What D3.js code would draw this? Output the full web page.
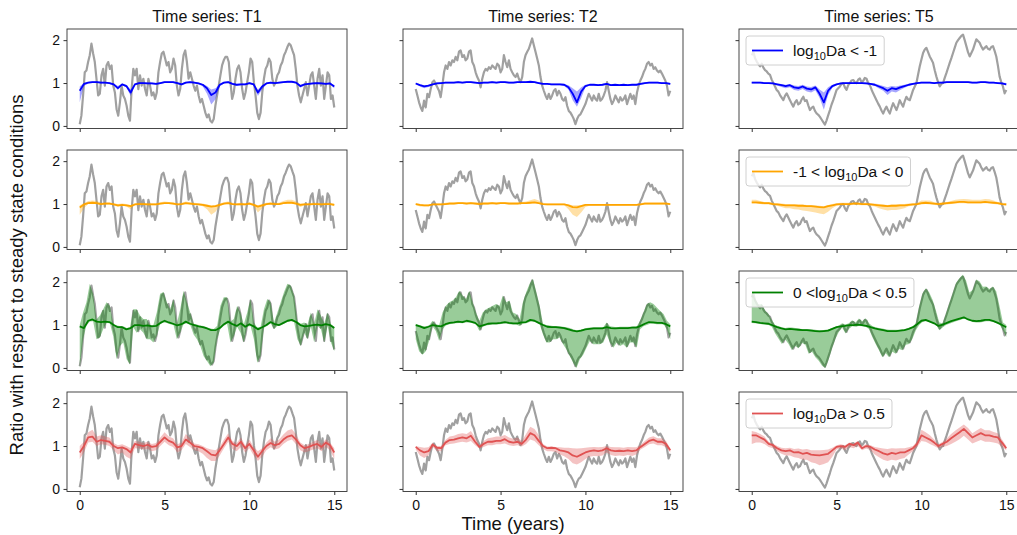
<!DOCTYPE html>
<html>
<head>
<meta charset="utf-8">
<title>Ratio with respect to steady state conditions</title>
<script src="https://cdn.jsdelivr.net/npm/d3@7"></script>
<style>
  body { margin: 0; background: #fff; }
  svg text { font-family: "Liberation Sans", Arial, sans-serif; fill: #111; }
</style>
</head>
<body>
<svg id="chart" width="1017" height="535"></svg>
<script>

// ---- data (values sampled evenly over 0-15 years) ----
var seriesNames = ["T1", "T2", "T5"];
var classLabels = [["", "< -1"], ["-1 < ", "< 0"], ["0 <", "< 0.5"], ["", "> 0.5"]];
var classColors = ["#0000ff", "#ffa500", "#008000", "#e05252"];
var xTicks = [0, 5, 10, 15];
var yTicks = [0, 1, 2];

// input time series (grey)
var grayT1 = [0.04,0.24,0.71,1.25,1.29,1.49,1.65,1.92,1.69,1.49,1.10,0.71,0.75,1.18,1.33,0.94,1.41,1.49,1.33,1.41,0.94,0.78,0.39,0.24,0.55,0.94,0.71,0.63,0.47,0.24,0.12,0.86,1.33,1.18,1.33,0.86,1.18,0.94,1.10,0.86,0.71,1.10,0.94,0.71,0.78,0.63,0.78,1.25,1.49,1.69,1.73,1.57,1.41,1.49,1.25,1.33,1.57,1.41,0.94,0.71,0.86,1.33,1.65,1.76,1.49,1.10,1.25,1.10,0.94,0.82,0.94,0.71,0.55,0.63,0.47,0.31,0.20,0.27,0.12,0.08,0.16,0.47,0.71,0.94,1.18,1.41,1.53,1.61,1.61,1.49,1.02,0.63,0.78,1.10,1.33,1.41,1.25,0.86,0.63,0.78,1.02,1.25,1.57,1.49,1.02,0.71,0.31,0.16,0.31,0.78,1.10,1.33,1.41,1.57,1.49,1.10,0.94,1.02,1.18,1.25,1.41,1.49,1.65,1.73,1.84,1.92,1.88,1.76,1.65,1.33,0.94,0.71,0.55,0.71,0.86,1.02,0.71,0.94,1.18,1.25,0.94,0.63,1.10,1.33,0.94,1.18,0.63,0.94,1.25,1.18,0.63,0.71,0.43];
var grayT2 = [0.86,0.71,0.55,0.43,0.35,0.59,0.43,0.75,0.67,0.86,1.02,1.06,0.98,0.90,0.82,0.67,0.94,1.25,1.41,1.33,1.49,1.41,1.53,1.49,1.61,1.53,1.73,1.76,1.61,1.65,1.53,1.57,1.73,1.76,1.49,1.41,1.25,1.14,1.06,0.90,1.10,1.25,1.33,1.29,1.37,1.33,1.41,1.37,1.33,1.45,1.41,1.25,1.33,1.65,1.49,1.37,1.53,1.33,1.25,1.18,1.14,1.22,1.10,1.02,1.14,1.49,1.65,1.73,1.80,1.92,2.04,1.88,1.73,1.57,1.41,1.14,0.94,0.82,0.71,0.63,0.75,0.63,0.71,0.82,0.86,0.71,0.82,0.75,0.63,0.59,0.67,0.47,0.35,0.31,0.24,0.16,0.04,0.16,0.24,0.27,0.35,0.43,0.51,0.63,0.75,0.67,0.59,0.71,0.63,0.59,0.75,0.59,0.63,0.71,0.82,1.02,0.82,0.63,0.51,0.59,0.71,0.63,0.55,0.67,0.59,0.63,0.71,0.51,0.63,0.75,0.63,0.71,0.51,0.78,0.94,1.06,1.14,1.25,1.33,1.45,1.49,1.41,1.45,1.33,1.37,1.29,1.25,1.29,1.22,1.14,1.06,0.94,0.71,0.82];
var grayT5 = [1.65,1.72,1.58,1.50,1.44,1.39,1.45,1.36,1.30,1.27,1.22,1.19,1.08,1.00,0.92,0.84,0.80,0.72,0.66,0.60,0.70,0.76,0.68,0.60,0.52,0.45,0.55,0.60,0.50,0.53,0.62,0.68,0.58,0.60,0.48,0.37,0.42,0.45,0.35,0.29,0.26,0.21,0.15,0.09,0.03,0.13,0.25,0.37,0.50,0.60,0.72,0.84,0.88,0.92,0.98,1.00,0.90,0.84,0.95,1.00,1.06,1.07,1.02,1.00,1.08,1.11,1.02,1.05,1.12,1.10,1.00,0.95,0.85,0.76,0.68,0.60,0.52,0.45,0.36,0.29,0.38,0.45,0.36,0.29,0.42,0.53,0.45,0.37,0.48,0.60,0.52,0.45,0.58,0.68,0.62,0.60,0.72,0.84,0.92,1.00,1.20,1.39,1.55,1.70,1.78,1.82,1.72,1.62,1.55,1.47,1.30,1.15,1.02,0.92,0.98,1.00,1.12,1.23,1.35,1.47,1.58,1.70,1.82,1.94,2.00,2.05,2.10,2.13,2.00,1.86,1.72,1.62,1.70,1.78,1.90,2.02,1.98,1.94,1.85,1.78,1.82,1.86,1.80,1.78,1.84,1.86,1.75,1.62,1.40,1.15,1.02,0.92,0.76,0.84];

// log10Da < -1 (median, band low, band high), every 0.25 years
var blueT1 = [0.82,0.98,1.01,1.02,1.02,1.01,1.01,1.00,0.97,0.88,0.97,0.93,0.78,0.97,1.00,1.00,0.99,0.99,0.98,1.00,1.02,1.02,1.02,1.00,0.97,1.01,1.02,1.01,0.99,0.96,0.88,0.72,0.78,0.96,1.01,1.02,0.98,0.96,0.97,0.97,1.00,0.97,0.78,0.92,0.99,1.01,1.00,1.01,1.02,1.03,1.03,1.01,0.93,0.97,0.98,0.99,1.00,0.99,0.98,0.99,0.92];
var blueT1Lo = [0.55,0.93,0.99,1.00,1.00,0.99,0.99,0.98,0.94,0.84,0.95,0.90,0.70,0.94,0.98,0.98,0.97,0.97,0.96,0.98,1.00,1.00,1.00,0.98,0.94,0.99,1.00,0.99,0.97,0.92,0.75,0.50,0.62,0.92,0.99,1.00,0.96,0.93,0.95,0.95,0.98,0.94,0.70,0.85,0.97,0.99,0.98,0.99,1.00,1.01,1.01,0.99,0.89,0.95,0.96,0.97,0.98,0.97,0.96,0.97,0.88];
var blueT1Hi = [0.92,1.00,1.03,1.04,1.04,1.03,1.03,1.02,0.99,0.93,0.99,0.96,0.85,0.99,1.02,1.02,1.01,1.01,1.00,1.02,1.04,1.04,1.04,1.02,0.99,1.03,1.04,1.03,1.01,0.98,0.93,0.85,0.88,0.98,1.03,1.04,1.00,0.98,0.99,0.99,1.02,0.99,0.85,0.95,1.01,1.03,1.02,1.03,1.04,1.05,1.05,1.03,0.96,0.99,1.00,1.01,1.02,1.01,1.00,1.01,0.95];
var blueT2 = [0.99,0.95,0.92,0.94,0.97,0.99,1.00,1.01,1.01,1.01,1.02,1.01,1.02,1.02,1.01,1.00,1.01,1.01,1.02,1.01,1.02,1.02,1.01,1.01,1.02,1.02,1.02,1.03,1.02,1.00,0.98,0.98,0.97,0.97,0.97,0.96,0.90,0.75,0.55,0.80,0.93,0.96,0.96,0.95,0.96,0.98,0.95,0.96,0.95,0.96,0.95,0.96,0.96,0.98,1.00,1.01,1.01,1.01,1.00,1.00,0.98];
var blueT2Lo = [0.97,0.92,0.88,0.91,0.95,0.97,0.98,0.99,0.99,0.99,1.00,0.99,1.00,1.00,0.99,0.98,0.99,0.99,1.00,0.99,1.00,1.00,0.99,0.99,1.00,1.00,1.00,1.01,1.00,0.98,0.96,0.96,0.95,0.95,0.95,0.93,0.85,0.60,0.45,0.65,0.90,0.94,0.94,0.93,0.94,0.96,0.93,0.94,0.93,0.94,0.93,0.94,0.94,0.96,0.98,0.99,0.99,0.99,0.98,0.98,0.96];
var blueT2Hi = [1.01,0.97,0.95,0.96,0.99,1.01,1.02,1.03,1.03,1.03,1.04,1.03,1.04,1.04,1.03,1.02,1.03,1.03,1.04,1.03,1.04,1.04,1.03,1.03,1.04,1.04,1.04,1.05,1.04,1.02,1.00,1.00,0.99,0.99,0.99,0.98,0.95,0.88,0.80,0.90,0.96,0.98,0.98,0.97,0.98,1.00,0.97,0.98,0.97,0.98,0.97,0.98,0.98,1.00,1.02,1.03,1.03,1.03,1.02,1.02,1.00];
var blueT5 = [1.01,1.01,1.01,1.00,1.00,0.99,0.97,0.95,0.93,0.95,0.90,0.88,0.92,0.87,0.85,0.90,0.75,0.55,0.82,0.93,0.97,0.99,1.00,1.00,1.00,1.00,1.00,0.99,0.98,0.96,0.92,0.88,0.82,0.88,0.86,0.90,0.93,0.96,0.98,1.00,1.01,1.01,1.01,1.00,1.01,1.01,1.02,1.02,1.02,1.02,1.02,1.02,1.01,1.01,1.02,1.02,1.01,1.01,1.00,0.99,0.97];
var blueT5Lo = [0.99,0.99,0.99,0.98,0.98,0.97,0.94,0.91,0.88,0.90,0.84,0.82,0.86,0.80,0.78,0.83,0.65,0.38,0.72,0.89,0.95,0.97,0.98,0.98,0.98,0.98,0.98,0.97,0.96,0.93,0.87,0.82,0.72,0.80,0.78,0.84,0.89,0.93,0.96,0.98,0.99,0.99,0.99,0.98,0.99,0.99,1.00,1.00,1.00,1.00,1.00,1.00,0.99,0.99,1.00,1.00,0.99,0.99,0.98,0.97,0.94];
var blueT5Hi = [1.03,1.03,1.03,1.02,1.02,1.01,0.99,0.98,0.96,0.98,0.94,0.93,0.96,0.92,0.91,0.94,0.85,0.78,0.90,0.96,0.99,1.01,1.02,1.02,1.02,1.02,1.02,1.01,1.00,0.99,0.96,0.93,0.90,0.93,0.92,0.94,0.96,0.98,1.00,1.02,1.03,1.03,1.03,1.02,1.03,1.03,1.04,1.04,1.04,1.04,1.04,1.04,1.03,1.03,1.04,1.04,1.03,1.03,1.02,1.01,1.00];

// -1 < log10Da < 0
var orangeT1 = [0.92,0.99,1.02,1.03,1.02,1.00,1.01,1.01,0.99,0.97,0.98,0.97,0.95,0.99,1.00,1.00,0.99,0.99,0.99,1.01,1.02,1.02,1.01,0.99,1.00,1.02,1.01,1.00,0.99,0.98,0.96,0.94,0.95,0.98,1.01,1.02,1.00,0.99,1.00,0.99,1.01,0.98,0.94,0.97,1.00,1.01,1.00,1.00,1.02,1.03,1.03,1.01,0.98,0.99,0.99,1.00,1.00,0.99,1.00,1.00,0.98];
var orangeT1Lo = [0.75,0.90,1.00,1.01,1.00,0.98,0.99,0.99,0.97,0.93,0.96,0.94,0.88,0.97,0.98,0.98,0.97,0.97,0.97,0.99,1.00,1.00,0.99,0.97,0.98,1.00,0.99,0.98,0.97,0.95,0.88,0.75,0.82,0.95,0.99,1.00,0.98,0.97,0.98,0.97,0.99,0.95,0.80,0.90,0.98,0.99,0.98,0.98,1.00,1.01,1.01,0.99,0.93,0.97,0.97,0.98,0.98,0.97,0.98,0.98,0.95];
var orangeT1Hi = [0.97,1.02,1.07,1.08,1.07,1.03,1.04,1.04,1.02,1.00,1.01,1.00,0.98,1.02,1.03,1.03,1.02,1.02,1.02,1.04,1.06,1.05,1.04,1.02,1.03,1.06,1.04,1.03,1.02,1.01,0.99,0.97,0.98,1.01,1.04,1.06,1.03,1.02,1.03,1.02,1.04,1.01,0.97,1.00,1.03,1.04,1.03,1.03,1.07,1.10,1.10,1.06,1.01,1.02,1.02,1.03,1.03,1.02,1.03,1.03,1.01];
var orangeT2 = [1.00,0.98,0.97,0.97,0.99,0.99,0.99,1.00,1.01,1.01,1.02,1.02,1.01,1.02,1.01,1.00,1.01,1.01,1.02,1.01,1.02,1.02,1.01,1.01,1.01,1.02,1.02,1.03,1.04,1.02,1.00,0.99,0.99,0.99,0.99,0.99,0.97,0.93,0.92,0.95,0.98,0.98,0.98,0.98,0.98,0.98,0.98,0.98,0.98,0.98,0.98,0.98,0.98,0.99,1.01,1.01,1.01,1.01,1.01,1.01,1.00];
var orangeT2Lo = [0.98,0.94,0.94,0.94,0.97,0.97,0.97,0.98,0.99,0.99,1.00,1.00,0.99,1.00,0.99,0.98,0.99,0.99,1.00,0.99,1.00,1.00,0.99,0.99,0.99,1.00,1.00,1.01,1.02,1.00,0.98,0.97,0.97,0.97,0.97,0.97,0.88,0.75,0.70,0.80,0.93,0.96,0.96,0.96,0.96,0.96,0.96,0.96,0.96,0.96,0.96,0.96,0.96,0.97,0.99,0.99,0.99,0.99,0.99,0.99,0.98];
var orangeT2Hi = [1.02,1.00,0.99,0.99,1.01,1.01,1.01,1.03,1.05,1.05,1.05,1.05,1.05,1.05,1.05,1.04,1.05,1.05,1.05,1.05,1.05,1.05,1.05,1.05,1.05,1.05,1.06,1.09,1.12,1.08,1.03,1.01,1.01,1.01,1.01,1.01,0.99,0.97,0.97,0.98,1.00,1.00,1.00,1.00,1.00,1.00,1.00,1.00,1.00,1.00,1.00,1.00,1.00,1.02,1.04,1.04,1.04,1.04,1.04,1.04,1.02];
var orangeT5 = [1.04,1.04,1.03,1.02,1.02,1.00,0.99,0.98,0.97,0.97,0.97,0.96,0.96,0.95,0.95,0.94,0.93,0.92,0.95,0.97,0.99,1.00,1.00,1.00,1.01,1.01,1.00,1.00,0.99,0.98,0.97,0.96,0.95,0.96,0.96,0.97,0.97,0.98,0.99,1.00,1.02,1.03,1.02,1.01,1.00,1.01,1.02,1.03,1.04,1.05,1.05,1.04,1.04,1.04,1.04,1.05,1.04,1.03,1.02,1.00,0.99];
var orangeT5Lo = [1.01,1.01,1.00,0.99,0.99,0.97,0.96,0.93,0.90,0.90,0.88,0.87,0.85,0.84,0.82,0.80,0.78,0.76,0.82,0.90,0.96,0.97,0.97,0.97,0.98,0.98,0.97,0.97,0.96,0.94,0.90,0.87,0.85,0.86,0.86,0.88,0.90,0.95,0.96,0.97,0.99,1.00,0.99,0.98,0.97,0.98,0.99,1.00,1.01,1.02,1.02,1.01,1.01,1.01,1.01,1.02,1.01,1.00,0.99,0.97,0.96];
var orangeT5Hi = [1.10,1.10,1.07,1.05,1.05,1.03,1.02,1.01,1.00,1.00,1.00,0.99,0.99,0.98,0.98,0.97,0.96,0.95,0.98,1.00,1.02,1.03,1.03,1.03,1.04,1.04,1.03,1.03,1.02,1.01,1.00,0.99,0.98,0.99,0.99,1.00,1.00,1.01,1.02,1.03,1.08,1.08,1.08,1.04,1.03,1.04,1.05,1.07,1.10,1.11,1.12,1.11,1.10,1.10,1.10,1.12,1.11,1.08,1.05,1.03,1.02];

// 0 < log10Da < 0.5 : median every 0.25 years, band on a finer grid
var greenT1 = [0.97,0.93,1.10,1.13,1.08,1.07,1.08,1.07,1.00,0.95,0.95,0.90,0.93,1.00,1.00,0.98,0.99,0.97,0.98,1.05,1.10,1.06,1.03,0.99,1.02,1.08,1.03,1.00,0.97,0.95,0.92,0.88,0.88,0.93,1.02,1.08,1.02,0.98,1.04,0.96,1.02,0.97,0.90,0.95,1.00,1.07,1.02,1.00,1.05,1.10,1.12,1.07,1.00,0.97,0.98,1.00,1.01,0.99,1.02,1.00,0.93];
var greenT1Lo = [0.00,0.67,0.99,1.08,1.09,0.67,0.71,0.90,1.05,1.04,0.74,0.20,0.51,0.59,0.20,0.08,0.95,0.82,0.90,0.82,0.67,0.67,0.59,0.74,1.02,1.06,1.05,1.02,1.00,0.67,0.82,1.02,1.04,1.00,0.78,0.67,0.51,0.27,0.16,0.04,0.12,0.67,0.91,0.98,1.03,0.59,0.74,0.96,0.82,0.59,0.96,0.98,0.67,0.12,0.27,0.94,0.98,1.04,0.90,0.98,0.99,1.03,1.07,1.09,1.07,0.67,0.51,0.82,0.67,0.96,0.59,0.98,0.90,0.59,0.98,0.59,0.39];
var greenT1Hi = [1.00,1.29,1.53,1.96,1.73,1.13,1.22,1.37,1.53,1.45,1.03,0.99,0.98,0.97,0.93,0.95,1.37,1.37,1.22,1.14,1.14,1.00,1.00,1.29,1.73,1.77,1.53,1.37,1.61,1.03,1.37,1.80,1.53,1.29,1.03,1.01,0.99,0.98,0.95,0.92,0.91,0.98,1.45,1.65,1.65,1.08,1.14,1.45,1.29,1.02,1.29,1.61,1.06,0.94,0.96,1.37,1.61,1.53,1.06,1.29,1.53,1.77,1.96,1.92,1.69,1.08,1.03,1.06,1.01,1.29,1.03,1.37,1.22,1.04,1.29,1.02,0.96];
var greenT2 = [1.00,0.97,0.93,0.96,1.00,0.98,0.97,1.02,1.05,1.06,1.08,1.07,1.10,1.08,1.05,0.97,1.00,1.03,1.04,1.04,1.05,1.07,1.05,1.04,1.04,1.06,1.07,1.12,1.10,1.05,1.00,0.96,0.95,0.95,0.94,0.93,0.90,0.87,0.85,0.87,0.90,0.91,0.92,0.92,0.92,0.95,0.93,0.92,0.93,0.93,0.93,0.94,0.94,0.98,1.03,1.07,1.06,1.05,1.05,1.02,0.97];
var greenT2Lo = [0.67,0.39,0.31,0.39,0.63,0.97,0.86,0.63,0.90,0.99,1.02,1.03,1.04,1.05,1.04,1.06,1.06,1.04,1.02,0.86,0.96,0.99,1.00,1.01,1.01,1.02,1.03,1.04,1.02,1.01,1.01,0.98,1.03,1.04,1.07,1.09,1.06,1.02,0.78,0.59,0.59,0.67,0.67,0.71,0.55,0.43,0.27,0.12,0.00,0.20,0.31,0.47,0.63,0.55,0.55,0.55,0.59,0.78,0.59,0.47,0.59,0.51,0.55,0.47,0.59,0.59,0.47,0.90,0.97,1.00,1.03,1.03,1.02,1.02,1.02,0.90,0.67];
var greenT2Hi = [1.03,1.00,0.98,0.97,0.99,1.10,1.02,1.00,1.29,1.45,1.53,1.57,1.65,1.80,1.69,1.61,1.80,1.53,1.29,1.10,1.29,1.37,1.41,1.45,1.49,1.45,1.69,1.53,1.57,1.29,1.26,1.14,1.53,1.77,1.96,2.08,1.77,1.45,1.03,1.00,0.99,0.98,0.98,0.97,0.96,0.95,0.93,0.90,0.88,0.89,0.91,0.93,0.94,0.95,0.95,0.95,0.95,1.06,0.97,0.96,0.95,0.96,0.96,0.96,0.96,0.97,0.97,1.10,1.29,1.49,1.53,1.49,1.41,1.33,1.26,1.10,1.02];
var greenT5 = [1.08,1.07,1.05,1.04,1.03,0.99,0.95,0.92,0.90,0.91,0.90,0.89,0.88,0.88,0.87,0.86,0.85,0.86,0.87,0.91,0.95,0.97,0.98,1.00,1.00,1.01,1.00,0.98,0.95,0.92,0.90,0.88,0.86,0.86,0.86,0.87,0.88,0.91,0.95,1.02,1.10,1.12,1.08,1.04,0.98,1.01,1.05,1.09,1.12,1.15,1.18,1.13,1.10,1.09,1.10,1.12,1.12,1.09,1.05,1.00,0.95];
var greenT5Lo = [1.05,1.04,1.03,1.02,1.01,1.00,0.96,0.80,0.68,0.56,0.66,0.56,0.41,0.51,0.46,0.58,0.54,0.33,0.38,0.25,0.17,0.05,0.00,0.21,0.46,0.68,0.84,0.94,0.80,0.91,0.97,0.96,0.98,0.97,0.96,0.91,0.72,0.56,0.41,0.25,0.34,0.25,0.38,0.33,0.44,0.41,0.54,0.56,0.68,0.88,1.00,1.07,1.09,1.07,1.04,1.01,0.88,0.94,1.00,1.03,1.06,1.09,1.11,1.14,1.14,1.10,1.07,1.06,1.06,1.07,1.09,1.09,1.08,1.05,1.02,0.88,0.72];
var greenT5Hi = [1.76,1.62,1.48,1.49,1.34,1.26,1.12,1.00,0.97,0.95,0.93,0.94,0.94,0.93,0.92,0.91,0.91,0.91,0.90,0.89,0.88,0.88,0.89,0.90,0.93,0.96,0.99,1.04,1.01,1.04,1.11,1.06,1.15,1.09,1.16,1.04,0.98,0.95,0.93,0.92,0.90,0.89,0.89,0.89,0.89,0.90,0.91,0.93,0.96,1.04,1.43,1.74,1.86,1.76,1.59,1.34,1.06,1.04,1.27,1.51,1.74,1.98,2.09,2.17,2.04,1.76,1.82,2.06,2.02,1.89,1.90,1.84,1.90,1.79,1.44,1.06,1.00];

// log10Da > 0.5
var redT1 = [0.85,1.00,1.20,1.22,1.10,1.14,1.12,1.10,1.00,0.95,0.97,0.93,0.85,1.05,1.02,1.00,1.03,0.98,1.00,1.10,1.20,1.12,1.08,0.97,1.00,1.15,1.08,1.00,0.98,0.95,0.88,0.80,0.78,0.90,1.05,1.20,1.05,1.00,1.10,0.95,1.05,0.90,0.75,0.88,1.00,1.07,1.02,1.05,1.15,1.22,1.25,1.15,1.02,0.95,0.98,1.02,1.05,0.98,1.08,1.02,0.85];
var redT1Lo = [0.70,0.85,1.08,1.10,1.00,1.04,1.03,1.00,0.90,0.80,0.85,0.75,0.70,0.95,0.94,0.92,0.93,0.88,0.90,1.00,1.10,1.02,0.98,0.85,0.90,1.05,0.98,0.90,0.88,0.82,0.72,0.65,0.65,0.78,0.95,1.10,0.93,0.88,0.98,0.85,0.95,0.78,0.65,0.75,0.90,0.97,0.92,0.95,1.05,1.12,1.15,1.04,0.90,0.85,0.88,0.92,0.95,0.88,0.98,0.90,0.70];
var redT1Hi = [1.00,1.10,1.32,1.38,1.22,1.25,1.22,1.20,1.07,1.02,1.04,1.00,0.95,1.12,1.10,1.07,1.10,1.05,1.07,1.20,1.32,1.22,1.18,1.04,1.08,1.28,1.18,1.06,1.04,1.00,0.95,0.92,0.90,0.98,1.15,1.30,1.12,1.07,1.20,1.02,1.15,0.98,0.88,0.95,1.08,1.18,1.10,1.15,1.27,1.36,1.40,1.27,1.08,1.02,1.05,1.10,1.14,1.05,1.16,1.08,0.95];
var redT2 = [0.98,0.90,0.85,0.88,1.03,0.96,0.95,1.08,1.14,1.15,1.18,1.20,1.18,1.24,1.10,0.98,1.05,1.10,1.10,1.12,1.12,1.16,1.10,1.08,1.10,1.05,1.15,1.30,1.25,1.12,1.00,0.95,0.96,0.95,0.90,0.88,0.85,0.78,0.75,0.80,0.85,0.88,0.90,0.88,0.90,0.95,0.90,0.88,0.89,0.88,0.90,0.88,0.90,0.98,1.05,1.12,1.15,1.10,1.10,1.05,0.90];
var redT2Lo = [0.92,0.78,0.72,0.78,0.98,0.88,0.88,1.02,1.05,1.06,1.08,1.10,1.08,1.12,1.02,0.94,0.98,1.02,1.02,1.04,1.04,1.06,1.02,1.00,1.02,0.99,1.05,1.15,1.12,1.02,0.93,0.88,0.88,0.86,0.80,0.76,0.70,0.60,0.57,0.62,0.70,0.75,0.77,0.76,0.78,0.85,0.79,0.77,0.78,0.77,0.79,0.77,0.80,0.92,0.98,1.04,1.06,1.02,1.02,0.97,0.85];
var redT2Hi = [1.00,0.98,0.96,0.97,1.08,1.00,1.00,1.14,1.22,1.24,1.28,1.30,1.28,1.35,1.20,1.02,1.12,1.18,1.20,1.22,1.22,1.26,1.20,1.17,1.20,1.12,1.28,1.45,1.40,1.25,1.05,0.99,0.99,0.98,0.97,0.96,0.96,0.95,0.94,0.95,0.96,0.97,0.98,0.97,0.98,1.00,0.98,0.97,0.97,0.96,0.98,0.97,0.97,1.03,1.12,1.20,1.23,1.18,1.18,1.12,0.94];
var redT5 = [1.25,1.25,1.20,1.15,1.05,1.02,0.95,0.90,0.88,0.90,0.85,0.86,0.82,0.84,0.80,0.79,0.78,0.80,0.82,0.90,0.98,1.00,0.98,1.05,1.02,1.08,0.95,1.00,0.98,0.92,0.88,0.83,0.80,0.84,0.82,0.85,0.85,0.90,0.95,1.05,1.25,1.20,1.15,1.08,1.00,1.05,1.10,1.18,1.25,1.32,1.40,1.30,1.20,1.25,1.30,1.25,1.25,1.22,1.20,1.08,0.95];
var redT5Lo = [1.05,1.08,1.08,1.05,0.98,0.95,0.88,0.82,0.78,0.78,0.74,0.72,0.68,0.68,0.62,0.60,0.55,0.58,0.62,0.75,0.92,0.94,0.90,0.98,0.95,1.00,0.90,0.94,0.90,0.80,0.74,0.68,0.65,0.68,0.66,0.70,0.72,0.80,0.88,0.98,1.12,1.10,1.05,1.00,0.95,0.98,1.00,1.05,1.10,1.16,1.24,1.15,1.06,1.10,1.14,1.10,1.10,1.08,1.06,0.98,0.90];
var redT5Hi = [1.35,1.33,1.28,1.22,1.10,1.06,1.00,0.96,0.95,0.96,0.93,0.94,0.92,0.93,0.90,0.90,0.90,0.91,0.92,0.96,1.02,1.04,1.02,1.08,1.06,1.12,1.00,1.04,1.02,0.98,0.96,0.94,0.93,0.95,0.94,0.95,0.95,0.97,1.00,1.12,1.38,1.32,1.25,1.15,1.04,1.10,1.18,1.28,1.36,1.43,1.50,1.42,1.30,1.36,1.42,1.37,1.37,1.33,1.30,1.15,1.00];

// ---- panel table: rows = Da class, columns = time series ----
var grays = [grayT1, grayT2, grayT5];
var panels = [
  [[blueT1, blueT1Lo, blueT1Hi], [blueT2, blueT2Lo, blueT2Hi], [blueT5, blueT5Lo, blueT5Hi]],
  [[orangeT1, orangeT1Lo, orangeT1Hi], [orangeT2, orangeT2Lo, orangeT2Hi], [orangeT5, orangeT5Lo, orangeT5Hi]],
  [[greenT1, greenT1Lo, greenT1Hi], [greenT2, greenT2Lo, greenT2Hi], [greenT5, greenT5Lo, greenT5Hi]],
  [[redT1, redT1Lo, redT1Hi], [redT2, redT2Lo, redT2Hi], [redT5, redT5Lo, redT5Hi]]
];

// ---- layout ----
var colLeft = [67, 403, 739],
    rowTop = [29, 150, 271, 392],
    pw = 280,
    ph = 99.5;

var svg = d3.select("#chart");

var x = d3.scaleLinear().domain([-0.75, 15.75]).range([0, pw]);
var y = d3.scaleLinear().domain([-0.06, 2.26]).range([ph, 0]);

// samples are spread evenly from 0 to 15 years
function tOf(i, n) { return i * 15 / (n - 1); }

var line = d3.line()
    .x(function(d, i, arr) { return x(tOf(i, arr.length)); })
    .y(function(d) { return y(d); });

var area = d3.area()
    .x(function(d) { return x(d.t); })
    .y0(function(d) { return y(d.lo); })
    .y1(function(d) { return y(d.hi); });

function bandData(lo, hi) {
  return lo.map(function(v, i) { return { t: tOf(i, lo.length), lo: v, hi: hi[i] }; });
}

panels.forEach(function(row, r) {
  row.forEach(function(p, c) {
    var g = svg.append("g").attr("transform", "translate(" + colLeft[c] + "," + rowTop[r] + ")");
    var col = classColors[r];

    g.append("path")
      .attr("d", line(grays[c]))
      .attr("fill", "none")
      .attr("stroke", "#a0a0a0")
      .attr("stroke-width", 2.2)
      .attr("stroke-linejoin", "round");

    g.append("path")
      .attr("d", area(bandData(p[1], p[2])))
      .attr("fill", col)
      .attr("fill-opacity", r == 2 ? 0.4 : 0.35)
      .attr("stroke", "none");

    g.append("path")
      .attr("d", line(p[0]))
      .attr("fill", "none")
      .attr("stroke", col)
      .attr("stroke-width", 1.8)
      .attr("stroke-linejoin", "round");

    // axes
    var ya = d3.axisLeft(y).tickValues(yTicks).tickSize(3.5).tickPadding(3.5)
      .tickFormat(c > 0 ? "" : d3.format("d"));
    var xa = d3.axisBottom(x).tickValues(xTicks).tickSize(3.5).tickPadding(5)
      .tickFormat(r < 3 ? "" : d3.format("d"));

    var gy = g.append("g").call(ya);
    var gx = g.append("g").attr("transform", "translate(0," + ph + ")").call(xa);
    [gx, gy].forEach(function(a) {
      a.select(".domain").remove();
      a.selectAll("line").attr("stroke", "#333");
      a.selectAll("text").attr("font-size", 14).attr("fill", "#111")
        .style("font-family", '"Liberation Sans", Arial, sans-serif');
    });

    g.append("rect")
      .attr("width", pw).attr("height", ph)
      .attr("fill", "none")
      .attr("stroke", "#333")
      .attr("stroke-width", 0.9);

    if (r == 0) {
      svg.append("text")
        .attr("x", colLeft[c] + pw / 2)
        .attr("y", 22)
        .attr("text-anchor", "middle")
        .attr("font-size", 16)
        .text("Time series: " + seriesNames[c]);
    }

    // legend in the right-hand column
    if (c == 2) {
      var lg = g.append("g").attr("transform", "translate(7,7)");
      var box = lg.append("rect")
        .attr("rx", 3).attr("ry", 3)
        .attr("height", 29)
        .attr("fill", "#fff").attr("fill-opacity", 0.8)
        .attr("stroke", "#d0d0d0").attr("stroke-width", 1);
      lg.append("line")
        .attr("x1", 6).attr("x2", 37).attr("y1", 14.5).attr("y2", 14.5)
        .attr("stroke", col).attr("stroke-width", 1.8);
      var txt = lg.append("text").attr("x", 47).attr("y", 20).attr("font-size", 15.5);
      txt.append("tspan").text(classLabels[r][0] + "log");
      txt.append("tspan").attr("font-size", 11).attr("dy", 4).text("10");
      txt.append("tspan").attr("dy", -4).text("Da " + classLabels[r][1]);
      var tw = txt.node().getComputedTextLength();
      box.attr("width", 47 + tw + 7);
    }
  });
});

svg.append("text")
  .attr("x", 513).attr("y", 530)
  .attr("text-anchor", "middle")
  .attr("font-size", 18.5)
  .text("Time (years)");

svg.append("text")
  .attr("transform", "translate(23,275) rotate(-90)")
  .attr("text-anchor", "middle")
  .attr("font-size", 18.5)
  .text("Ratio with respect to steady state conditions");

</script>
</body>
</html>
